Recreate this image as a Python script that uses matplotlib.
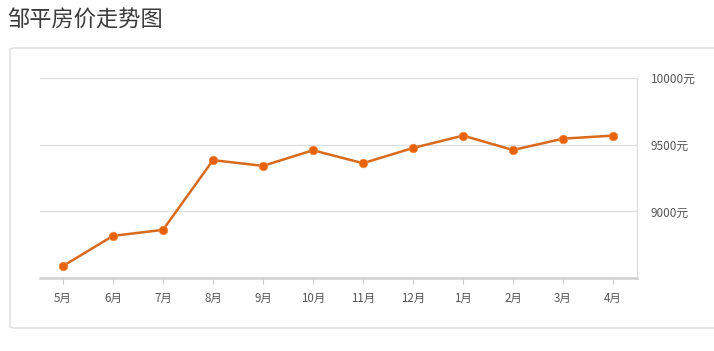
import matplotlib
matplotlib.use("Agg")
import matplotlib.pyplot as plt
from matplotlib.patches import FancyBboxPatch

plt.rcParams['font.family'] = ['Noto Sans CJK SC', 'DejaVu Sans']

months = ["5月", "6月", "7月", "8月", "9月", "10月", "11月", "12月", "1月", "2月", "3月", "4月"]
prices = [8590, 8816, 8861, 9384, 9341, 9458, 9361, 9475, 9568, 9460, 9545, 9568]
yticks = [9000, 9500, 10000]
ytick_labels = ["9000元", "9500元", "10000元"]
title = "邹平房价走势图"

W, H = 714, 351
fig = plt.figure(figsize=(W / 100, H / 100), dpi=100)
fig.patch.set_facecolor("white")

# outer card
box = FancyBboxPatch((10 / W, 1 - 328 / H), 720 / W, 280 / H,
                     boxstyle="round,pad=0,rounding_size=0.006",
                     transform=fig.transFigure, facecolor="white",
                     edgecolor="#dcdcdc", linewidth=1.0, zorder=-5)
fig.patches.append(box)

fig.text(7 / W, 1 - 20 / H, title, fontsize=16, color="#3a3a3a",
         ha="left", va="center")

ax = fig.add_axes([40 / W, 1 - 278 / H, 597 / W, 200 / H])
ax.set_zorder(2)
ax.set_facecolor("none")
x = list(range(len(months)))
ax.plot(x, prices, color="#d86a1e", linewidth=1.8, zorder=3)
ax.scatter(x, prices, s=38, color="#e8620e", zorder=4, edgecolors="#f08a40", linewidths=0.5)

ax.set_xlim(-0.46, 11.48)
ax.set_ylim(8500, 10000)
ax.set_xticks(x)
ax.set_xticklabels(months, fontsize=8.3, color="#555555")
ax.yaxis.tick_right()
ax.set_yticks(yticks)
ax.set_yticklabels(ytick_labels, fontsize=8.5, color="#555555")
ax.tick_params(axis='y', length=0, pad=10)
ax.tick_params(axis='x', length=4, color="#cccccc", pad=6)
for v in yticks:
    ax.axhline(v, color="#dddddd", linewidth=0.9, zorder=1)
for s in ["top", "left"]:
    ax.spines[s].set_visible(False)
ax.spines["right"].set_color("#dddddd")
ax.spines["right"].set_linewidth(0.9)
ax.spines["bottom"].set_color("#d0d0d0")
ax.spines["bottom"].set_linewidth(1.8)

fig.savefig("out.png", dpi=100)
